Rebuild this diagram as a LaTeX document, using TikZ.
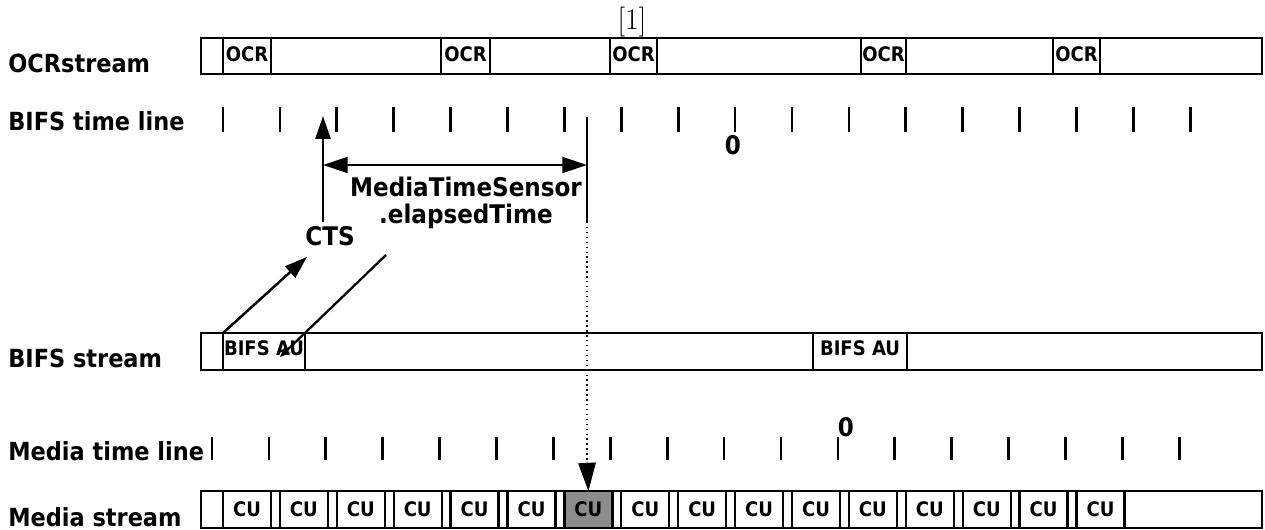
\documentclass[tikz,border=0pt]{standalone}
\usepackage{fontspec}
\usetikzlibrary{arrows.meta}
\newfontfamily\cond{DejaVuSansCondensed-Bold.ttf}
\tikzset{
  rowlabel/.style={font=\cond\fontsize{14.2}{16}\selectfont,inner sep=0pt},
  celltext/.style={font=\cond\fontsize{11.4}{12}\selectfont,inner sep=0pt},
  streambox/.style={draw,line width=1.5pt},
  cellbox/.style={draw,line width=1.3pt},
  tickline/.style={line width=1.5pt},
  bigtip/.style={-{Triangle[length=13pt,width=8.5pt]}},
}
\begin{document}
\begin{tikzpicture}[x=0.02cm,y=-0.02cm,line join=miter]
\useasboundingbox (0,0) rectangle (1265,530);
% row labels
\foreach \n/\y/\t in {locr/73/OCRstream,lbtl/131/BIFS time line,lbs/368/BIFS stream,lmtl/460/Media time line,lms/526/Media stream}
  {\node[rowlabel,anchor=base west] (\n) at (8,\y) {\t};}
\node[font=\fontsize{17}{18}\selectfont,inner sep=0pt] (ref) at (632,22) {[1]};
% OCR stream
\draw[streambox] (201,38) rectangle (1262,74);
\foreach \a/\b [count=\i] in {223/271,441/490,610/657,861/906,1053/1100}
  {\draw[cellbox] (\a,38) rectangle (\b,74);
   \node[celltext,anchor=base] (ocr\i) at ({(\a+\b)/2},62) {OCR};}
% BIFS time line
\foreach \k in {0,...,17}
  {\draw[tickline] ({223+56.9*\k},107) -- ({223+56.9*\k},132);}
\node[rowlabel,font=\cond\fontsize{14.6}{16}\selectfont] (bzero) at (733,145) {0};
% BIFS stream
\draw[streambox] (201,333) rectangle (1262,370);
\foreach \a/\b [count=\i] in {223/305,813/907}
  {\draw[cellbox] (\a,333) rectangle (\b,370);
   \node[celltext,anchor=base] (bau\i) at ({(\a+\b)/2},356) {BIFS AU};
   \coordinate (baucell\i) at (\a,333);}
% Media time line
\foreach \k in {0,...,17}
  {\draw[tickline] ({212+56.9*\k},437) -- ({212+56.9*\k},460);}
\node[rowlabel,font=\cond\fontsize{14.6}{16}\selectfont] (mzero) at (846,427) {0};
% Media stream
\draw[streambox] (201,491) rectangle (1262,528);
\foreach \k in {0,...,15}
  {\ifnum\k=6 \def\fc{black!45}\else\def\fc{white}\fi
   \draw[cellbox,fill=\fc] ({223+56.9*\k},491) rectangle ({271+56.9*\k},528);
   \node[celltext,anchor=base] (cu\k) at ({247+56.9*\k},516) {CU};
   \coordinate (cutop\k) at ({247+56.9*\k},491);}
% CTS and elapsed time
\node[rowlabel,font=\cond\fontsize{14.6}{16}\selectfont] (cts) at (330,236) {CTS};
\node[rowlabel,align=center,font=\cond\fontsize{14.6}{15.6}\selectfont] (mts) at (466,203) {MediaTimeSensor\\.elapsedTime};
\coordinate (ctstip) at (323,116);
\coordinate (ctsfoot) at (323,222);
\coordinate (eltop) at (587,117);
\coordinate (elbot) at (587,222);
\coordinate (elfoot) at (386,255);
\coordinate (autip) at (280,357);
\draw[tickline] (eltop) -- (elbot);
\draw[tickline,bigtip] (ctsfoot) -- (ctstip);
\draw[line width=1.5pt,{Triangle[length=14pt,width=9pt]}-{Triangle[length=14pt,width=9pt]}] (323,165) -- (587,165);
\draw[line width=1.4pt,bigtip,shorten >=0.62cm] (baucell1) -- (cts.center);
\draw[line width=1.3pt,-{Stealth[length=6pt,width=5pt]}] (elfoot) -- (autip);
\draw[line width=0.8pt,dotted] (elbot) -- (587,463);
\draw[-{Triangle[length=16pt,width=10pt]}] (587,462) -- (cutop6);
\end{tikzpicture}
\end{document}
